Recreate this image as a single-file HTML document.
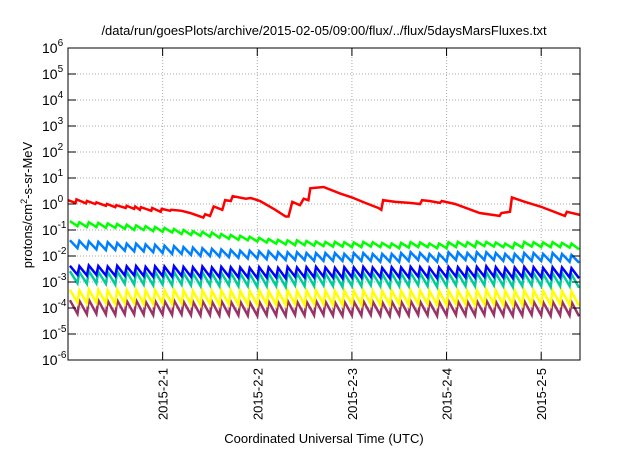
<!DOCTYPE html>
<html><head><meta charset="utf-8"><style>
body{margin:0;background:#fff;}
svg text{font-family:"Liberation Sans",sans-serif;fill:#000;}
</style></head><body>
<svg id="chart" width="640" height="448" viewBox="0 0 640 448" xmlns="http://www.w3.org/2000/svg">
<text x="324" y="35" font-size="13" text-anchor="middle">/data/run/goesPlots/archive/2015-02-05/09:00/flux/../flux/5daysMarsFluxes.txt</text>
<text x="324" y="443" font-size="13" text-anchor="middle">Coordinated Universal Time (UTC)</text>
<text transform="translate(32,205) rotate(-90)" font-size="13" text-anchor="middle">protons/cm<tspan dy="-5" font-size="9">2</tspan><tspan dy="5">-s-sr-MeV</tspan></text>
<g id="grid"></g>
<g id="series"></g>
<g id="axes"></g>
</svg>
<script>
const xTicks=[1,2,3,4,5];
const xTickLabels=["2015-2-1","2015-2-2","2015-2-3","2015-2-4","2015-2-5"];
const yExps=[-6,-5,-4,-3,-2,-1,0,1,2,3,4,5,6];
const redT=[0,0.08,0.09,0.19,0.2,0.29,0.3,0.40,0.41,0.5,0.51,0.61,0.62,0.7,0.71,0.76,0.77,0.88,0.89,0.98,0.99,1.08,1.09,1.2,1.29,1.43,1.45,1.50,1.54,1.63,1.66,1.72,1.74,1.88,1.93,2.03,2.19,2.30,2.33,2.37,2.45,2.49,2.54,2.56,2.70,2.88,3.00,3.14,3.28,3.31,3.33,3.46,3.61,3.72,3.74,3.82,3.93,3.95,4.09,4.35,4.56,4.58,4.67,4.69,4.83,4.99,5.25,5.27,5.41];
const redV=[1.4,1.1,1.5,1.05,1.3,1.0,1.15,0.85,1.0,0.75,0.9,0.7,0.85,0.65,0.8,0.6,0.75,0.55,0.7,0.5,0.65,0.55,0.6,0.55,0.45,0.3,0.4,0.35,0.8,0.6,1.4,1.3,2.0,1.6,1.7,1.3,0.6,0.33,0.33,1.2,0.9,1.6,1.4,4.0,4.5,2.5,1.8,1.1,0.7,0.6,1.4,1.2,1.1,1.0,1.4,1.3,1.1,1.3,1.0,0.45,0.35,0.45,0.5,1.8,1.2,0.8,0.35,0.5,0.38];
const greenPeak=[0.22,0.2,0.2,0.19,0.18,0.17,0.16,0.15,0.14,0.13,0.12,0.11,0.1,0.09,0.085,0.08,0.07,0.065,0.06,0.055,0.05,0.045,0.042,0.04,0.04,0.038,0.036,0.035,0.035,0.034,0.033,0.035,0.034,0.032,0.03,0.032,0.034,0.033,0.03,0.03,0.034,0.035,0.034,0.036,0.035,0.033,0.03,0.032,0.035,0.034,0.033,0.034,0.032,0.03];
const greenTrough=[0.14,0.13,0.13,0.12,0.12,0.11,0.1,0.1,0.09,0.085,0.08,0.07,0.065,0.06,0.055,0.05,0.046,0.042,0.04,0.036,0.033,0.03,0.028,0.026,0.026,0.025,0.024,0.023,0.023,0.022,0.022,0.023,0.022,0.021,0.02,0.021,0.022,0.022,0.02,0.02,0.022,0.023,0.022,0.024,0.023,0.022,0.02,0.021,0.023,0.022,0.022,0.022,0.021,0.018];
const cyanPeak=[0.04,0.038,0.036,0.035,0.034,0.032,0.03,0.03,0.028,0.027,0.025,0.024,0.022,0.021,0.02,0.019,0.018,0.017,0.016,0.016,0.015,0.015,0.014,0.014,0.014,0.013,0.013,0.013,0.013,0.012,0.013,0.013,0.012,0.012,0.012,0.013,0.014,0.013,0.012,0.012,0.014,0.014,0.013,0.014,0.014,0.013,0.012,0.012,0.013,0.013,0.012,0.013,0.012,0.011];
const cyanTrough=[0.02,0.019,0.018,0.017,0.017,0.016,0.015,0.015,0.014,0.013,0.012,0.012,0.011,0.01,0.01,0.0095,0.009,0.0085,0.008,0.008,0.0075,0.0075,0.007,0.007,0.007,0.0065,0.0065,0.0065,0.0065,0.006,0.0065,0.0065,0.006,0.006,0.006,0.0065,0.007,0.0065,0.006,0.006,0.007,0.007,0.0065,0.007,0.007,0.0065,0.006,0.006,0.0065,0.0065,0.006,0.0065,0.006,0.0055];
const bluePeak=[0.0042,0.004,0.0043,0.0041,0.0039,0.0042,0.004,0.0041,0.0038,0.004,0.0039,0.0041,0.0038,0.0037,0.0039,0.0036,0.0038,0.0037,0.0036,0.0035,0.0037,0.0036,0.0035,0.0038,0.0036,0.0037,0.0038,0.0036,0.0035,0.0037,0.0036,0.0038,0.0036,0.0035,0.0037,0.0036,0.0038,0.0037,0.0035,0.0036,0.0038,0.0037,0.0036,0.0038,0.004,0.0037,0.0035,0.0036,0.0038,0.0037,0.0035,0.0037,0.0036,0.0034];
const blueTrough=[0.0019,0.0018,0.0019,0.0018,0.0017,0.0018,0.0018,0.0017,0.0016,0.0017,0.0016,0.0017,0.0016,0.0015,0.0016,0.0015,0.0016,0.0015,0.0015,0.0014,0.0015,0.0015,0.0014,0.0016,0.0015,0.0015,0.0016,0.0015,0.0014,0.0015,0.0015,0.0016,0.0015,0.0014,0.0015,0.0015,0.0016,0.0015,0.0014,0.0015,0.0016,0.0015,0.0015,0.0016,0.0016,0.0015,0.0014,0.0015,0.0016,0.0015,0.0014,0.0015,0.0015,0.0014];
const tealPeak=[0.0026,0.0024,0.0027,0.0025,0.0024,0.0026,0.0025,0.0025,0.0023,0.0025,0.0024,0.0025,0.0023,0.0022,0.0024,0.0022,0.0023,0.0023,0.0022,0.0021,0.0023,0.0022,0.0021,0.0023,0.0022,0.0023,0.0023,0.0022,0.0021,0.0022,0.0022,0.0023,0.0022,0.0021,0.0022,0.0022,0.0023,0.0022,0.0021,0.0022,0.0023,0.0022,0.0022,0.0023,0.0024,0.0022,0.0021,0.0022,0.0023,0.0022,0.0021,0.0022,0.0022,0.002];
const tealTrough=[0.0009,0.00085,0.0009,0.00085,0.0008,0.00085,0.0008,0.0008,0.00075,0.0008,0.00075,0.0008,0.00075,0.0007,0.00075,0.0007,0.00075,0.0007,0.0007,0.00065,0.0007,0.0007,0.00065,0.00075,0.0007,0.0007,0.00075,0.0007,0.00065,0.0007,0.0007,0.00075,0.0007,0.00065,0.0007,0.0007,0.00075,0.0007,0.00065,0.0007,0.00075,0.0007,0.0007,0.00075,0.00075,0.0007,0.00065,0.0007,0.00075,0.0007,0.00065,0.0007,0.0007,0.0006];
const yellowPeak=[0.0005,0.00048,0.00052,0.0005,0.00048,0.0005,0.00049,0.0005,0.00047,0.00049,0.00048,0.0005,0.00047,0.00046,0.00048,0.00046,0.00048,0.00047,0.00046,0.00045,0.00047,0.00046,0.00045,0.00048,0.00046,0.00047,0.00048,0.00046,0.00045,0.00047,0.00046,0.00048,0.00046,0.00045,0.00047,0.00046,0.00048,0.00047,0.00045,0.00046,0.00048,0.00047,0.00046,0.00048,0.0005,0.00047,0.00045,0.00046,0.00048,0.00047,0.00045,0.00047,0.00046,0.00044];
const yellowTrough=[0.00016,0.00015,0.00016,0.00015,0.00014,0.00015,0.00015,0.00014,0.00014,0.00015,0.00014,0.00015,0.00014,0.00013,0.00014,0.00013,0.00014,0.00013,0.00013,0.00013,0.00014,0.00013,0.00013,0.00014,0.00013,0.00014,0.00014,0.00013,0.00013,0.00014,0.00013,0.00014,0.00013,0.00013,0.00014,0.00013,0.00014,0.00014,0.00013,0.00013,0.00014,0.00014,0.00013,0.00014,0.00014,0.00013,0.00013,0.00013,0.00014,0.00014,0.00013,0.00014,0.00013,0.00012];
const purplePeak=[0.0002,0.00019,0.00021,0.0002,0.00019,0.0002,0.00019,0.0002,0.00018,0.00019,0.00019,0.0002,0.00018,0.00018,0.00019,0.00018,0.00019,0.00018,0.00018,0.00017,0.00018,0.00018,0.00017,0.00019,0.00018,0.00018,0.00019,0.00018,0.00017,0.00018,0.00018,0.00019,0.00018,0.00017,0.00018,0.00018,0.00019,0.00018,0.00017,0.00018,0.00019,0.00018,0.00018,0.00019,0.0002,0.00018,0.00017,0.00018,0.00019,0.00018,0.00017,0.00018,0.00018,0.00017];
const purpleTrough=[0.00006,0.000058,0.00006,0.000057,0.000055,0.000058,0.000057,0.000056,0.000054,0.000056,0.000055,0.000057,0.000054,0.000052,0.000055,0.000052,0.000054,0.000053,0.000052,0.00005,0.000053,0.000052,0.00005,0.000055,0.000052,0.000053,0.000055,0.000052,0.00005,0.000053,0.000052,0.000055,0.000052,0.00005,0.000053,0.000052,0.000055,0.000053,0.00005,0.000052,0.000055,0.000053,0.000052,0.000055,0.000055,0.000052,0.00005,0.000052,0.000055,0.000053,0.00005,0.000053,0.000052,0.000048];
const toothPeriod=0.1;

const NS="http://www.w3.org/2000/svg";
const L=68,R=580,T=48,B=360,X0=0,X1=5.41;
function xs(t){return L+(t-X0)/(X1-X0)*(R-L);}
function ys(v){return B-(Math.log10(v)+6)/12*(B-T);}
function mk(tag,attrs,parent){const e=document.createElementNS(NS,tag);for(const k in attrs)e.setAttribute(k,attrs[k]);parent.appendChild(e);return e;}
const grid=document.getElementById('grid'),axes=document.getElementById('axes'),ser=document.getElementById('series');
yExps.forEach(ex=>{
  const y=ys(Math.pow(10,ex));
  if(ex>-6&&ex<6){const g=mk('line',{x1:L,x2:R,y1:y,y2:y,stroke:'#aaa','stroke-width':1,'stroke-dasharray':'1,2'},grid);
  
  }
  mk('line',{x1:L,x2:L+8,y1:y,y2:y,stroke:'#000'},axes);
  mk('line',{x1:R,x2:R-8,y1:y,y2:y,stroke:'#000'},axes);
  const t=mk('text',{x:42,y:y+5,'font-size':14,'text-anchor':'start'},axes);
  
  
  t.innerHTML='10<tspan dy="-7" font-size="10">'+ex+'</tspan>';
});
xTicks.forEach((d,i)=>{
  const x=xs(d);
  const g=mk('line',{x1:x,x2:x,y1:T,y2:B,stroke:'#aaa','stroke-width':1,'stroke-dasharray':'1,2'},grid);
  
  
  mk('line',{x1:x,x2:x,y1:B,y2:B-8,stroke:'#000'},axes);
  mk('line',{x1:x,x2:x,y1:T,y2:T+8,stroke:'#000'},axes);
  const t=mk('text',{transform:'translate('+(x+5)+',368) rotate(-90)','font-size':13,'text-anchor':'end'},axes);
  
  
  t.textContent=xTickLabels[i];
});
const frame=mk('rect',{x:L,y:T,width:R-L,height:B-T,fill:'none',stroke:'#000','stroke-width':1},axes);


function drawPath(pts,color,name){
  const p=mk('polyline',{points:pts.map(q=>q[0].toFixed(1)+','+q[1].toFixed(1)).join(' '),fill:'none',stroke:color,'stroke-width':2.5,'stroke-linejoin':'miter'},ser);
  
  
}
function saw(peaks,troughs,color,name){
  const pts=[];
  peaks.forEach((pk,k)=>{
    const t0=k*toothPeriod;
    pts.push([xs(Math.min(t0+0.02,X1)),ys(pk)]);
    pts.push([xs(Math.min(t0+toothPeriod,X1)),ys(troughs[k])]);
  });
  drawPath(pts,color,name);
}
saw(purplePeak,purpleTrough,'#993366','series-purple');
saw(yellowPeak,yellowTrough,'#ffff00','series-yellow');
saw(tealPeak,tealTrough,'#00cc99','series-teal');
saw(bluePeak,blueTrough,'#0000ff','series-blue');
saw(cyanPeak,cyanTrough,'#0080ff','series-light-blue');
saw(greenPeak,greenTrough,'#00ff00','series-green');
drawPath(redT.map((t,i)=>[xs(t),ys(redV[i])]),'#ff0000','series-red');
</script>
</body></html>
